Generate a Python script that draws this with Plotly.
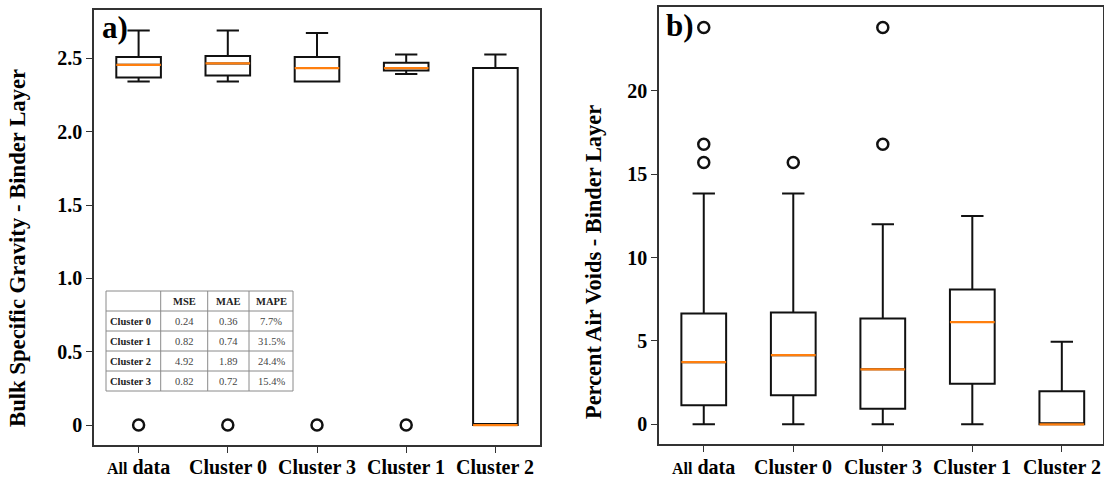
import plotly.graph_objects as go

# ---------------- data ----------------
categories = ["All data", "Cluster 0", "Cluster 3", "Cluster 1", "Cluster 2"]

# (a) Bulk specific gravity - binder layer
gsb_q1 = [2.37, 2.384, 2.343, 2.418, 0.0]
gsb_median = [2.456, 2.466, 2.434, 2.434, 0.0]
gsb_q3 = [2.51, 2.517, 2.51, 2.47, 2.434]
gsb_low = [2.343, 2.343, 2.343, 2.393, 0.0]
gsb_high = [2.69, 2.69, 2.674, 2.527, 2.527]
gsb_out_x = ["All data", "Cluster 0", "Cluster 3", "Cluster 1"]
gsb_out_y = [0.0, 0.0, 0.0, 0.0]

# (b) Percent air voids - binder layer
av_q1 = [1.14, 1.74, 0.94, 2.43, 0.0]
av_median = [3.73, 4.15, 3.30, 6.13, 0.0]
av_q3 = [6.65, 6.71, 6.35, 8.09, 1.98]
av_low = [0.0, 0.0, 0.0, 0.0, 0.0]
av_high = [13.85, 13.85, 12.0, 12.49, 4.95]
av_out_x = ["All data", "All data", "All data", "Cluster 0", "Cluster 3", "Cluster 3"]
av_out_y = [23.8, 16.8, 15.7, 15.7, 23.8, 16.8]

# error table
tbl_header = ["", "MSE", "MAE", "MAPE"]
tbl_rows = ["Cluster 0", "Cluster 1", "Cluster 2", "Cluster 3"]
tbl_mse = ["0.24", "0.82", "4.92", "0.82"]
tbl_mae = ["0.36", "0.74", "1.89", "0.72"]
tbl_mape = ["7.7%", "31.5%", "24.4%", "15.4%"]

gsb_ticks = [0, 0.5, 1.0, 1.5, 2.0, 2.5]
gsb_ticktext = ["0", "0.5", "1.0", "1.5", "2.0", "2.5"]
av_ticks = [0, 5, 10, 15, 20]

# ---------------- style ----------------
W, H = 1104, 482
SERIF = "Liberation Serif, Times New Roman, serif"
BLACK = "#111111"
ORANGE = "#ff7f0e"
FRAME = "#333333"


def px_x(p):
    return p / W


def px_y(p):
    return 1 - p / H


fig = go.Figure()


def add_boxes(xa, ya, q1, med, q3, low, high, ox, oy):
    fig.add_trace(go.Box(
        x=categories, q1=q1, median=med, q3=q3, lowerfence=low, upperfence=high,
        xaxis=xa, yaxis=ya, width=0.5, whiskerwidth=0.5,
        line=dict(color=BLACK, width=2), fillcolor="rgba(0,0,0,0)",
        boxpoints=False, hoverinfo="skip", showlegend=False))
    fig.add_trace(go.Box(
        x=categories, q1=med, median=med, q3=med, lowerfence=med, upperfence=med,
        xaxis=xa, yaxis=ya, width=0.5, whiskerwidth=0,
        line=dict(color=ORANGE, width=2.2), fillcolor="rgba(0,0,0,0)",
        boxpoints=False, hoverinfo="skip", showlegend=False))
    fig.add_trace(go.Scatter(
        x=ox, y=oy, xaxis=xa, yaxis=ya, mode="markers",
        marker=dict(symbol="circle-open", size=11, color=BLACK,
                    line=dict(width=2.5, color=BLACK)),
        hoverinfo="skip", showlegend=False))


add_boxes("x", "y", gsb_q1, gsb_median, gsb_q3, gsb_low, gsb_high, gsb_out_x, gsb_out_y)
add_boxes("x2", "y2", av_q1, av_median, av_q3, av_low, av_high, av_out_x, av_out_y)

axis_common = dict(showline=True, mirror=True, linecolor=FRAME, linewidth=1.6,
                   ticks="outside", ticklen=6, tickwidth=1.2, tickcolor=FRAME,
                   showgrid=False, zeroline=False)

fig.update_layout(
    width=W, height=H,
    margin=dict(l=0, r=0, t=0, b=0),
    paper_bgcolor="white", plot_bgcolor="white",
    boxmode="overlay",
    xaxis=dict(domain=[px_x(94), px_x(540)], anchor="y", type="category",
               categoryorder="array", categoryarray=categories, range=[-0.5, 4.5],
               showticklabels=False, **axis_common),
    yaxis=dict(domain=[px_y(445), px_y(10)], anchor="x", range=[-0.136, 2.83],
               tickvals=gsb_ticks, ticktext=gsb_ticktext,
               tickfont=dict(family=SERIF, size=20, color="#000000", weight="bold"),
               **axis_common),
    xaxis2=dict(domain=[px_x(659), px_x(1103)], anchor="y2", type="category",
                categoryorder="array", categoryarray=categories, range=[-0.5, 4.46],
                showticklabels=False, **axis_common),
    yaxis2=dict(domain=[px_y(444), px_y(7)], anchor="x2", range=[-1.18, 25.03],
                tickvals=av_ticks,
                tickfont=dict(family=SERIF, size=20, color="#000000", weight="bold"),
                **axis_common),
)

ann_font = dict(family=SERIF, color="#000000", weight="bold")

# category labels placed on the category axes
for xa in ("x", "x2"):
    for c in categories:
        label = c
        if c == "All data":
            label = "<span style='font-size:16px'>All</span> data"
        fig.add_annotation(text=label, xref=xa, yref="paper", x=c, y=px_y(467),
                           showarrow=False, xanchor="center", yanchor="middle",
                           font=dict(size=20, **ann_font))

fig.add_annotation(text="Bulk Specific Gravity - Binder Layer", xref="paper", yref="paper",
                   x=px_x(18), y=px_y(248), textangle=-90, showarrow=False,
                   xanchor="center", yanchor="middle", font=dict(size=22.7, **ann_font))
fig.add_annotation(text="Percent Air Voids - Binder Layer", xref="paper", yref="paper",
                   x=px_x(593), y=px_y(262), textangle=-90, showarrow=False,
                   xanchor="center", yanchor="middle", font=dict(size=22.4, **ann_font))
fig.add_annotation(text="a)", xref="paper", yref="paper", x=px_x(100), y=px_y(27),
                   showarrow=False, xanchor="left", yanchor="middle",
                   font=dict(size=31, **ann_font))
fig.add_annotation(text="b)", xref="paper", yref="paper", x=px_x(664), y=px_y(25),
                   showarrow=False, xanchor="left", yanchor="middle",
                   font=dict(size=31, **ann_font))

# ---------------- error table (inset) ----------------
T_LEFT, T_TOP, ROW_H = 106, 291, 20
COL_EDGES = [106, 160.7, 207.7, 249, 293]
n_rows = len(tbl_rows) + 1
T_BOTTOM = T_TOP + n_rows * ROW_H
GRID = "#8a8a8a"
fig.add_shape(type="rect", xref="paper", yref="paper",
              x0=px_x(COL_EDGES[0]), x1=px_x(COL_EDGES[-1]),
              y0=px_y(T_BOTTOM), y1=px_y(T_TOP),
              line=dict(color=GRID, width=1), fillcolor="white", layer="above")
for xe in COL_EDGES[1:-1]:
    fig.add_shape(type="line", xref="paper", yref="paper",
                  x0=px_x(xe), x1=px_x(xe), y0=px_y(T_BOTTOM), y1=px_y(T_TOP),
                  line=dict(color=GRID, width=1), layer="above")
for r in range(1, n_rows):
    yy = T_TOP + r * ROW_H
    fig.add_shape(type="line", xref="paper", yref="paper",
                  x0=px_x(COL_EDGES[0]), x1=px_x(COL_EDGES[-1]),
                  y0=px_y(yy), y1=px_y(yy),
                  line=dict(color=GRID, width=1), layer="above")

columns = [tbl_rows, tbl_mse, tbl_mae, tbl_mape]
for ci, head in enumerate(tbl_header):
    xc = (COL_EDGES[ci] + COL_EDGES[ci + 1]) / 2
    if head:
        fig.add_annotation(text="<b>%s</b>" % head, xref="paper", yref="paper",
                           x=px_x(xc), y=px_y(T_TOP + ROW_H / 2), showarrow=False,
                           xanchor="center", yanchor="middle",
                           font=dict(family=SERIF, size=10.5, color="#222222"))
    for ri, val in enumerate(columns[ci]):
        yc = T_TOP + (ri + 1.5) * ROW_H
        if ci == 0:
            fig.add_annotation(text="<b>%s</b>" % val, xref="paper", yref="paper",
                               x=px_x(COL_EDGES[0] + 2), y=px_y(yc), showarrow=False,
                               xanchor="left", yanchor="middle",
                               font=dict(family=SERIF, size=10.5, color="#222222"))
        else:
            fig.add_annotation(text=val, xref="paper", yref="paper",
                               x=px_x(xc), y=px_y(yc), showarrow=False,
                               xanchor="center", yanchor="middle",
                               font=dict(family=SERIF, size=10.5, color="#444444"))

fig.write_html("out.html", config={"displayModeBar": False},
               post_script="document.body.style.margin='0px';")
